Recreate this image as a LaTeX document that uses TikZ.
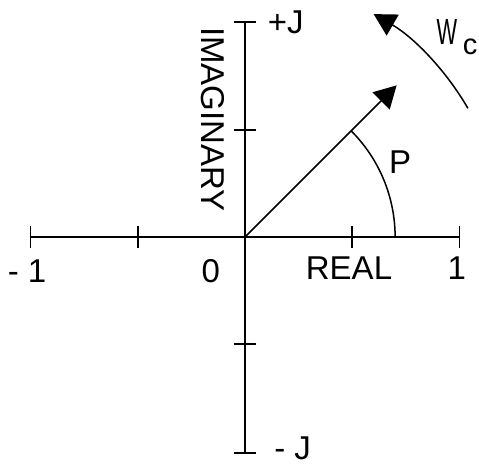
\documentclass[tikz,border=0pt]{standalone}
\usepackage{fontspec}
\setmainfont{Liberation Sans}
\usetikzlibrary{arrows.meta}
\begin{document}
\begin{tikzpicture}[x=214.5pt,y=214.5pt,
  axis/.style={line width=1.7pt},
  tickmark/.style={line width=1.6pt},
  vec/.style={line width=1.5pt,-{Triangle[length=22pt,width=24pt]}},
  lbl/.style={inner sep=0pt,font=\fontsize{33}{38}\selectfont}]
\useasboundingbox (-1.142,-1.068) rectangle (1.091,1.105);
\coordinate (O) at (0,0);
\coordinate (L) at (-1,0);
\coordinate (R) at (1,0);
\coordinate (T) at (0,1.002);
\coordinate (B) at (0,-1.007);
\coordinate (V) at (45:1);
% axes
\draw[axis] (L) -- (R);
\draw[axis] (B) -- (T);
% ticks on real axis
\foreach \x in {-1,-0.5,0.5,1}
  \draw[tickmark] (\x,-0.05) -- (\x,0.05);
% ticks on imaginary axis
\foreach \y in {-1.007,-0.5,0.5,1.002}
  \draw[tickmark] (-0.053,\y) -- (0.053,\y);
% vector
\draw[vec] (O) -- (V);
% angle arc P
\draw[line width=1.5pt] (0.7,0) arc[start angle=0,end angle=45,radius=0.7];
% rotation arc Wc
\draw[vec] (30:1.2) arc[start angle=30,end angle=60,radius=1.2];
% labels
\node[lbl] (pj) at (0.19,1.0) {+J};
\node[lbl] (mj) at (0.222,-0.984) {- J};
\node[lbl] (m1) at (-1.016,-0.159) {- 1};
\node[lbl] (zero) at (-0.159,-0.159) {0};
\node[lbl] (real) at (0.485,-0.145) {REAL};
\node[lbl] (one) at (0.988,-0.145) {1};
\node[lbl,rotate=-90] (imag) at (-0.149,0.548) {IMAGINARY};
\node[lbl] (p) at (0.723,0.350) {P};
\node[lbl,anchor=west] (wc) at (0.893,0.93) {\scalebox{0.66}[1.1]{W}\,\raisebox{-10pt}{\fontsize{29}{32}\selectfont c}};
\end{tikzpicture}
\end{document}
